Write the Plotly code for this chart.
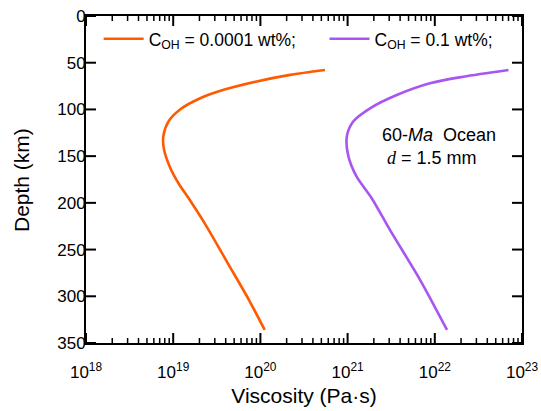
import math
import plotly.graph_objects as go

# Depth profiles of upper-mantle viscosity for a 60 Ma oceanic plate
depth_dry = [57.8, 63, 70, 79, 88, 100, 113, 129, 143, 161, 179, 197, 222, 265, 304, 336]
visc_dry = [5.5e20, 2.19e20, 9.1e19, 3.8e19, 2.04e19, 1.2e19, 8.8e18, 7.7e18,
            7.85e18, 9.1e18, 1.15e19, 1.55e19, 2.3e19, 4.25e19, 7.4e19, 1.12e20]

depth_wet = [57.8, 65, 72, 84.6, 98.8, 113, 129, 150, 172, 195, 229, 282.6, 336]
visc_wet = [7.0e22, 2.12e22, 8.8e21, 3.66e21, 1.81e21, 1.16e21, 9.8e20, 1.02e21,
            1.27e21, 1.89e21, 3.06e21, 6.8e21, 1.38e22]

series_names = ["C<sub>OH</sub> = 0.0001 wt%;", "C<sub>OH</sub> = 0.1 wt%;"]
series_colors = ["#FF5A00", "#A855F2"]

x_tick_exponents = [18, 19, 20, 21, 22, 23]
y_ticks = [0, 50, 100, 150, 200, 250, 300, 350]

FONT = "Liberation Sans, Arial, sans-serif"
WIDTH, HEIGHT = 541, 411
MARGIN = dict(l=86, r=19, t=16, b=68)
PLOT_H = HEIGHT - MARGIN["t"] - MARGIN["b"]

X_RANGE = [x_tick_exponents[0], x_tick_exponents[-1]]
Y_RANGE = [y_ticks[-1], y_ticks[0]]
x_major = [10.0 ** e for e in x_tick_exponents]
x_labels = [f"10<sup>{e}</sup>" for e in x_tick_exponents]
x_minor = [m * 10.0 ** e for e in x_tick_exponents[:-1] for m in range(2, 10)]


def depth_len(px):
    # a tick length in pixels expressed in depth units
    return px * abs(Y_RANGE[0] - Y_RANGE[1]) / PLOT_H


def x_tick_path(vals, length):
    # inward tick segments on the bottom and top edges, separated by gaps
    dl = depth_len(length)
    xs, ys = [], []
    for v in vals:
        for edge, sign in ((Y_RANGE[0], -1), (Y_RANGE[1], 1)):
            xs += [v, v, None]
            ys += [edge, edge + sign * dl, None]
    return xs, ys


fig = go.Figure()
legend_ids = ["legend", "legend2"]
for name, color, x, y, lg in zip(series_names, series_colors,
                                 [visc_dry, visc_wet], [depth_dry, depth_wet],
                                 legend_ids):
    fig.add_trace(go.Scatter(
        x=x, y=y, mode="lines", name=name, legend=lg, showlegend=True,
        line=dict(color=color, width=2.6, shape="spline", smoothing=0.8),
    ))

# tick marks of the logarithmic viscosity axis (major and minor)
for vals, length, width in ((x_major, 10, 2), (x_minor, 5, 1.5)):
    tx, ty = x_tick_path(vals, length)
    fig.add_trace(go.Scatter(
        x=tx, y=ty, mode="lines", showlegend=False, hoverinfo="skip",
        line=dict(color="black", width=width),
    ))

legend_style = dict(
    orientation="h", yanchor="top", xanchor="left", y=0.985,
    font=dict(size=17.5), bgcolor="rgba(0,0,0,0)", itemwidth=40,
)

shapes = []
# ticks on the left and right depth edges
for v in y_ticks:
    for anchor, sign in ((0, 1), (1, -1)):
        shapes.append(dict(
            type="line", line=dict(color="black", width=2),
            xref="paper", yref="y", y0=v, y1=v,
            xsizemode="pixel", xanchor=anchor, x0=0, x1=sign * 10))

fig.update_layout(
    template="none",
    width=WIDTH, height=HEIGHT,
    margin=MARGIN,
    paper_bgcolor="white", plot_bgcolor="white",
    font=dict(family=FONT, size=17, color="black"),
    showlegend=True,
    legend=dict(legend_style, x=0.029),
    legend2=dict(legend_style, x=0.547),
    shapes=shapes,
    xaxis=dict(
        type="log", range=X_RANGE, automargin=False,
        tickmode="array", tickvals=x_major, ticktext=x_labels, ticks="",
        ticklabelstandoff=13,
        showline=True, linewidth=2, linecolor="black", mirror=True,
        showgrid=False, zeroline=False,
        title=dict(text="Viscosity (Pa·s)", font=dict(size=21), standoff=7),
        tickfont=dict(size=17),
    ),
    yaxis=dict(
        range=Y_RANGE, automargin=False,
        tickmode="array", tickvals=y_ticks, ticks="",
        ticklabelstandoff=-5,
        showline=True, linewidth=2, linecolor="black", mirror=True,
        showgrid=False, zeroline=False,
        tickfont=dict(size=17),
    ),
)

fig.add_annotation(
    text="Depth (km)", textangle=-90, xref="paper", yref="paper",
    x=(22 - 86) / 436, y=(343 - 180) / 327, xanchor="center", yanchor="middle",
    showarrow=False, font=dict(size=21),
)
fig.add_annotation(
    text="60-<i>Ma</i>  Ocean", xref="paper", yref="paper",
    x=(380 - 86) / 436, y=(343 - 135) / 327, xanchor="left", yanchor="middle",
    showarrow=False, font=dict(size=18),
)
fig.add_annotation(
    text="<span style='font-family:Liberation Serif, Times New Roman, serif'><i>d</i></span> = 1.5 mm",
    xref="paper", yref="paper",
    x=(385 - 86) / 436, y=(343 - 158) / 327, xanchor="left", yanchor="middle",
    showarrow=False, font=dict(size=18),
)

fig.write_html("out.html")
